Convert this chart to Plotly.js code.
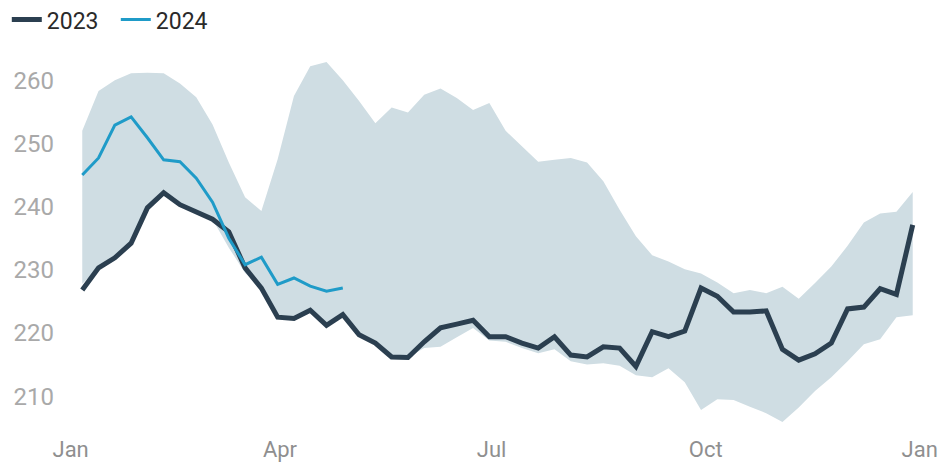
<!DOCTYPE html>
<html>
<head>
<meta charset="utf-8">
<script src="https://cdn.plot.ly/plotly-3.0.1.min.js"></script>
<style>html,body{margin:0;padding:0;background:#fff}#chart{width:941px;height:463px}</style>
</head>
<body>
<div id="chart"></div>
<script>
const weeks = ["2023-01-06","2023-01-13","2023-01-20","2023-01-27","2023-02-03","2023-02-10","2023-02-17","2023-02-24",
"2023-03-03","2023-03-10","2023-03-17","2023-03-24","2023-03-31","2023-04-07","2023-04-14","2023-04-21","2023-04-28",
"2023-05-05","2023-05-12","2023-05-19","2023-05-26","2023-06-02","2023-06-09","2023-06-16","2023-06-23","2023-06-30",
"2023-07-07","2023-07-14","2023-07-21","2023-07-28","2023-08-04","2023-08-11","2023-08-18","2023-08-25",
"2023-09-01","2023-09-08","2023-09-15","2023-09-22","2023-09-29","2023-10-06","2023-10-13","2023-10-20","2023-10-27",
"2023-11-03","2023-11-10","2023-11-17","2023-11-24","2023-12-01","2023-12-08","2023-12-15","2023-12-22","2023-12-29"];

const values2023 = [226.8,230.3,231.9,234.2,239.8,242.2,240.3,239.2,238.0,236.0,230.3,227.1,222.5,222.3,223.6,221.2,222.9,
219.7,218.4,216.2,216.1,218.6,220.8,221.4,222.0,219.4,219.4,218.4,217.6,219.4,216.5,216.2,217.8,217.6,214.7,220.2,219.4,
220.3,227.1,225.8,223.3,223.3,223.5,217.4,215.7,216.7,218.4,223.8,224.1,227.0,226.1,237.1];

const values2024 = [245.0,247.7,252.9,254.2,250.9,247.4,247.1,244.5,240.7,235.0,230.8,232.0,227.7,228.7,227.4,226.6,227.1];

const rangeMax = [252.0,258.3,260.0,261.1,261.2,261.1,259.5,257.3,253.0,247.0,241.5,239.3,247.5,257.5,262.2,262.9,260.0,
256.7,253.2,255.7,254.9,257.7,258.7,257.2,255.3,256.4,252.0,249.5,247.1,247.4,247.7,247.0,244.0,239.5,235.3,232.3,231.3,
230.1,229.4,228.0,226.3,226.8,226.3,227.3,225.4,227.9,230.5,233.8,237.5,238.9,239.2,242.3];

const rangeMin = [227.8,230.3,231.9,234.2,239.8,242.2,240.3,239.2,238.0,233.5,229.5,227.1,222.5,222.3,223.6,221.2,222.9,
219.7,218.4,216.2,216.1,217.6,217.8,219.3,220.8,218.8,218.6,217.6,216.8,217.4,215.5,215.0,215.2,214.8,213.3,213.0,214.4,
212.2,207.8,209.5,209.4,208.3,207.3,205.9,208.2,210.8,213.0,215.5,218.2,219.0,222.5,222.8];

const yTicks = [210,220,230,240,250,260];
const xTickVals = ["2023-01-01","2023-04-01","2023-07-01","2023-10-01","2024-01-01"];
const xTickText = ["Jan","Apr","Jul","Oct","Jan"];

const bandColor = "#cfdde3";
const traces = [
  {x: weeks, y: rangeMax, type: "scatter", mode: "lines", line: {width: 0, color: bandColor}, showlegend: false, hoverinfo: "skip"},
  {x: weeks, y: rangeMin, type: "scatter", mode: "lines", line: {width: 0, color: bandColor}, fill: "tonexty", fillcolor: bandColor, showlegend: false, hoverinfo: "skip"},
  {x: weeks, y: values2023, name: "2023", type: "scatter", mode: "lines", line: {color: "#2b3f50", width: 5}},
  {x: weeks.slice(0, values2024.length), y: values2024, name: "2024", type: "scatter", mode: "lines", line: {color: "#1f9bc8", width: 3}}
];

const layout = {
  width: 941, height: 463,
  margin: {l: 59, r: 12, t: 55, b: 29, autoexpand: false},
  paper_bgcolor: "#fff", plot_bgcolor: "#fff",
  font: {family: "Roboto, sans-serif", size: 23, color: "#333"},
  showlegend: true,
  legend: {orientation: "h", traceorder: "normal", x: -0.06, xanchor: "left", y: 1.15, yanchor: "top",
           font: {size: 23, color: "#2a2a2a"}, entrywidth: 64, entrywidthmode: "pixels", bgcolor: "rgba(0,0,0,0)"},
  xaxis: {type: "date", range: ["2022-12-27", "2024-01-05"], tickvals: xTickVals, ticktext: xTickText,
          showgrid: false, zeroline: false, showline: false, ticks: "", tickfont: {color: "#8f8f8f", size: 22}},
  yaxis: {range: [204, 264], tickvals: yTicks, showgrid: false, zeroline: false, showline: false, ticks: "",
          tickfont: {color: "#a9a9a9", size: 24}, ticklabelstandoff: 4}
};

Plotly.newPlot("chart", traces, layout, {displayModeBar: false, staticPlot: true});
</script>
</body>
</html>
